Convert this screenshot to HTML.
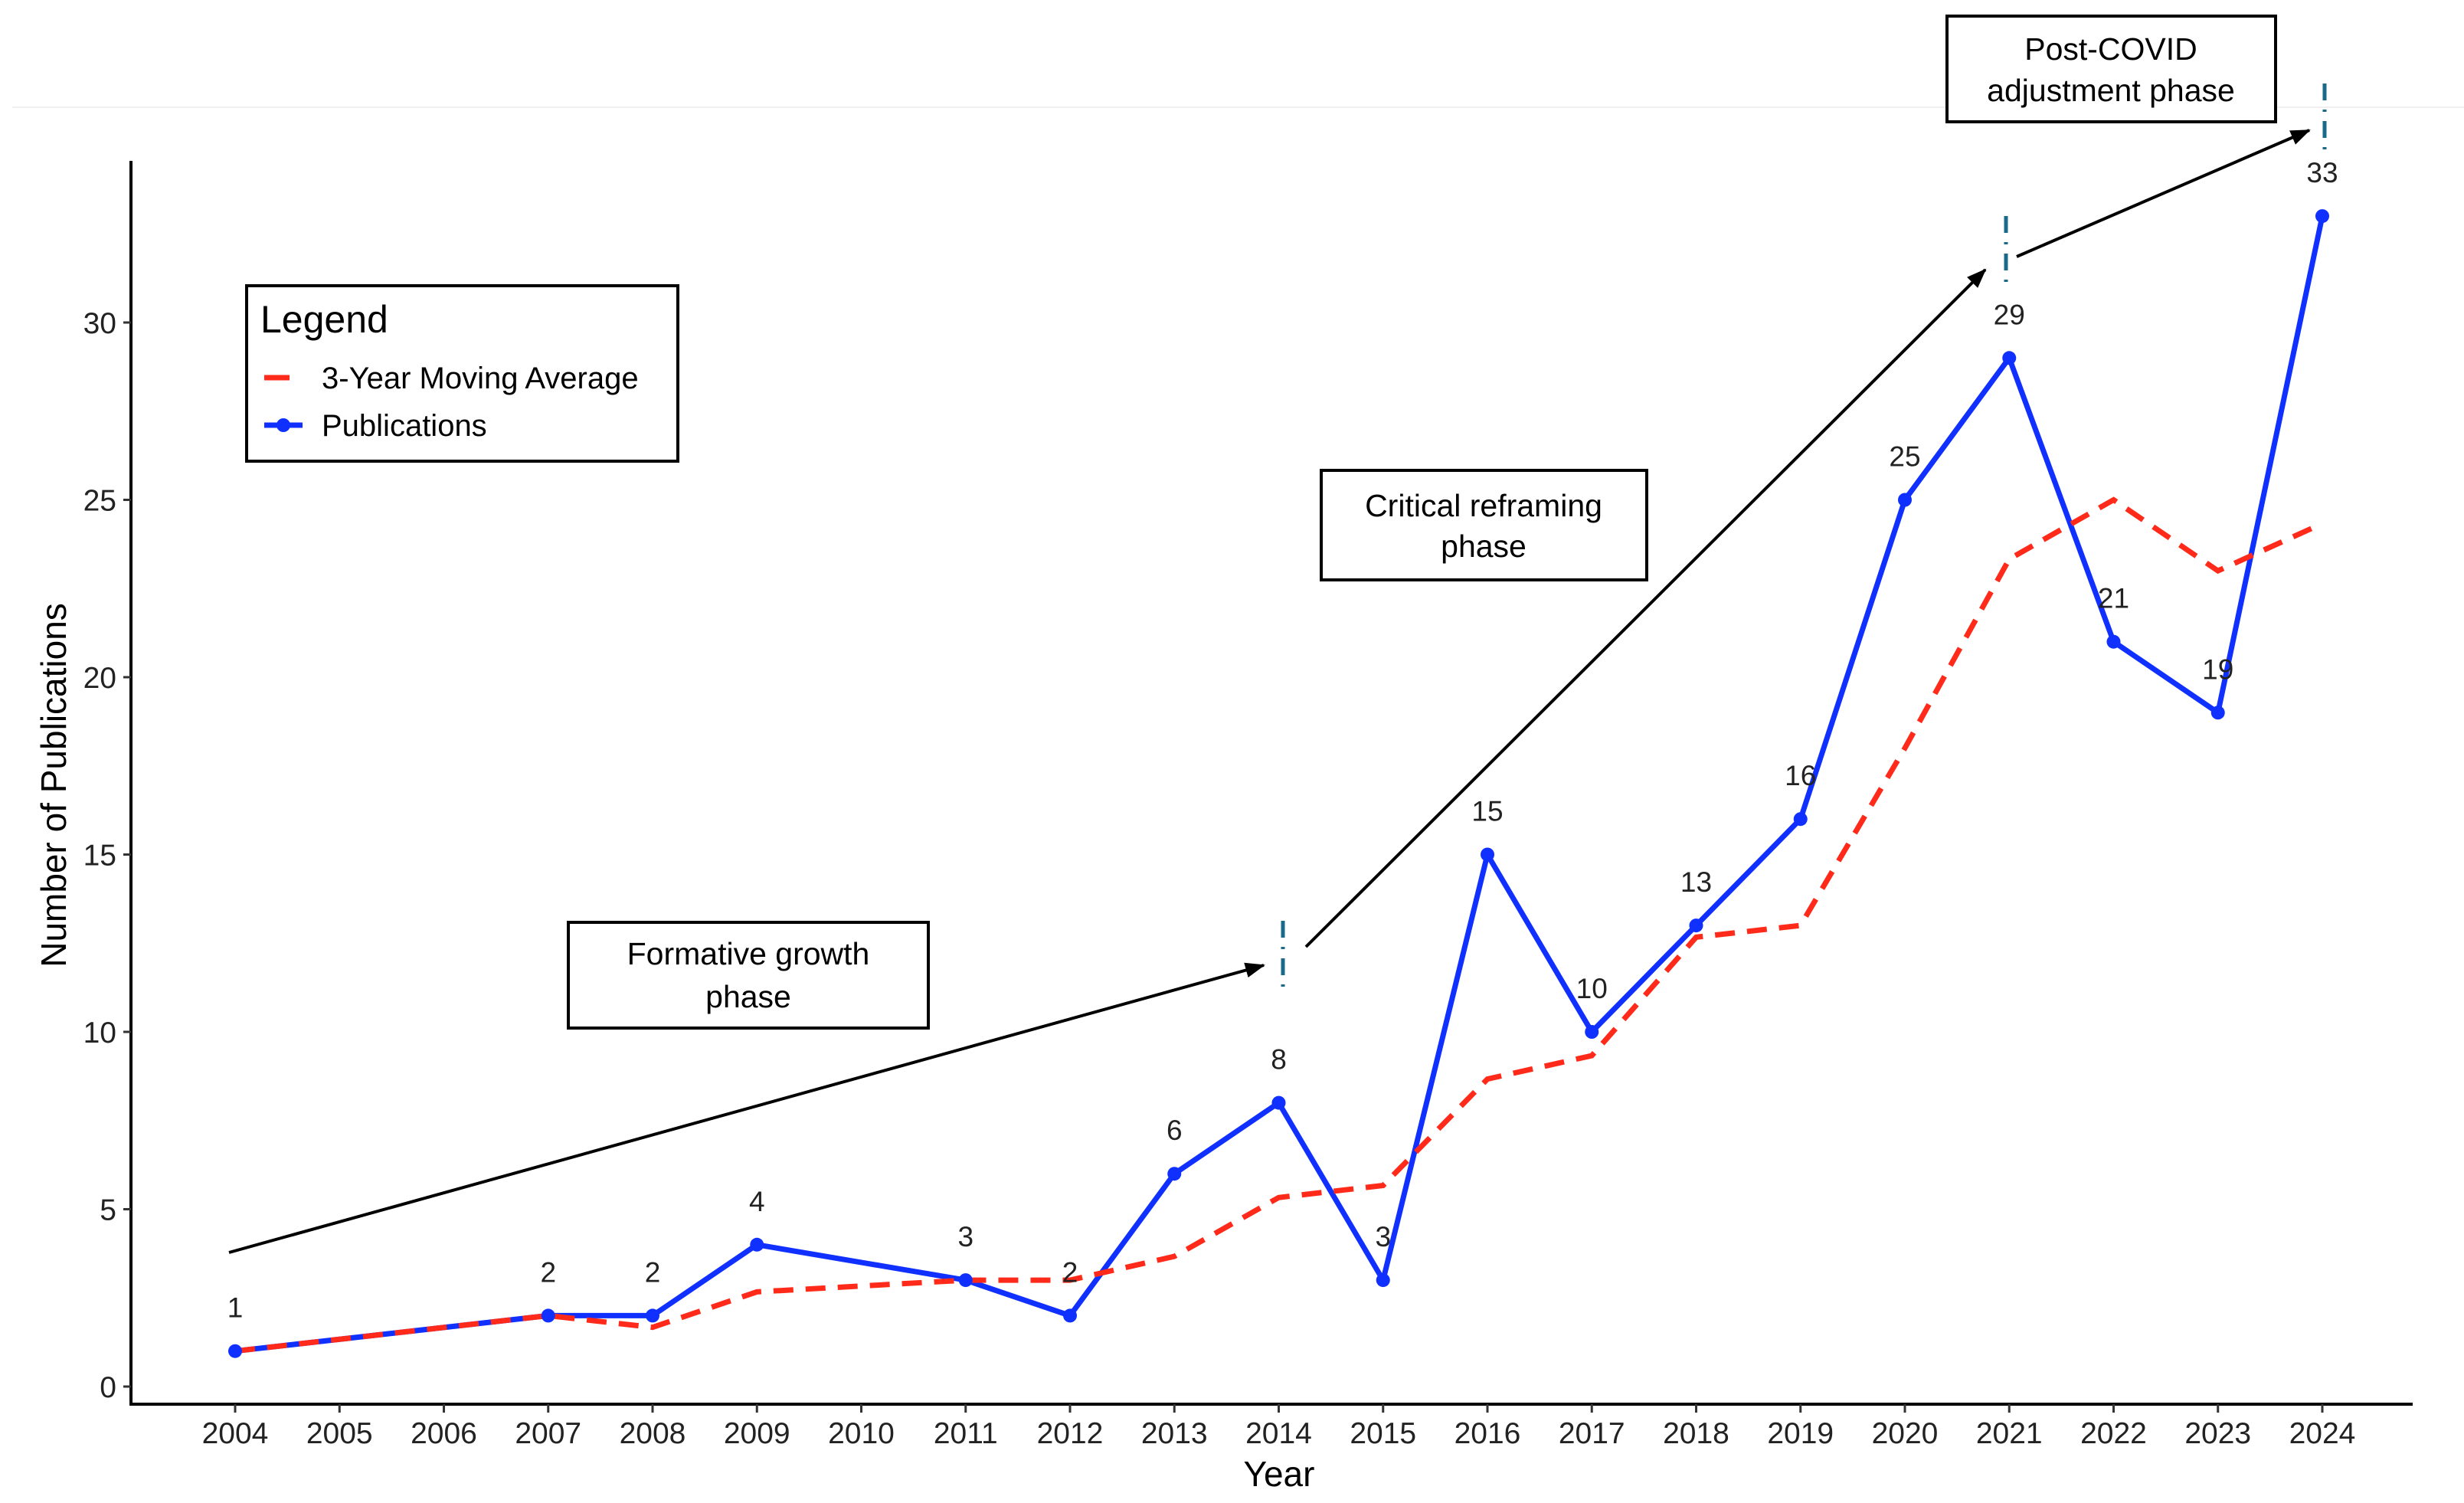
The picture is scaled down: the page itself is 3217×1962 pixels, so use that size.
<!DOCTYPE html>
<html><head><meta charset="utf-8"><style>
html,body{margin:0;padding:0;background:#fff;}
svg{display:block;font-family:"Liberation Sans",Arial,sans-serif;}
</style></head><body>
<svg id="chart" width="3217" height="1962" viewBox="0 0 3217 1962" xmlns="http://www.w3.org/2000/svg">
<line x1="16" y1="140" x2="3217" y2="140" stroke="#f0f0f0" stroke-width="2"/>
<g id="axes"></g>
<g id="series"></g>
<g id="annotations">
  <defs><marker id="ah" markerWidth="26" markerHeight="22" refX="24" refY="11" orient="auto" markerUnits="userSpaceOnUse" viewBox="0 0 26 22"><path d="M0,1 L26,11 L0,21 z" fill="#000"/></marker></defs>
  <line x1="299" y1="1635" x2="1650" y2="1260" stroke="#000" stroke-width="4" marker-end="url(#ah)"/>
  <line x1="1705" y1="1236" x2="2592" y2="352" stroke="#000" stroke-width="4" marker-end="url(#ah)"/>
  <line x1="2633" y1="335" x2="3015" y2="170" stroke="#000" stroke-width="4" marker-end="url(#ah)"/>
  <line x1="1675" y1="1202" x2="1675" y2="1295" stroke="#1a6a8a" stroke-width="5" stroke-dasharray="22,12,3,12"/>
  <line x1="2619" y1="282" x2="2619" y2="371" stroke="#1a6a8a" stroke-width="5" stroke-dasharray="22,12,3,12"/>
  <line x1="3035" y1="109" x2="3035" y2="196" stroke="#1a6a8a" stroke-width="5" stroke-dasharray="22,12,3,12"/>
  <g>
    <rect x="742" y="1204" width="470" height="138" fill="#fff" stroke="#000" stroke-width="4"/>
    <text x="977" y="1259" font-size="41" text-anchor="middle">Formative growth</text>
    <text x="977" y="1315" font-size="41" text-anchor="middle">phase</text>
  </g>
  <g>
    <rect x="1734" y="614" width="425" height="143" fill="#fff" stroke="#000" stroke-width="4" transform="translate(-9,0)"/>
    <text x="1937" y="674" font-size="41" text-anchor="middle">Critical reframing</text>
    <text x="1937" y="727" font-size="41" text-anchor="middle">phase</text>
  </g>
  <g>
    <rect x="2542" y="21" width="429" height="138" fill="#fff" stroke="#000" stroke-width="4"/>
    <text x="2756" y="78" font-size="41" text-anchor="middle">Post-COVID</text>
    <text x="2756" y="132" font-size="41" text-anchor="middle">adjustment phase</text>
  </g>
</g>
<g>
  <rect x="322" y="373" width="563" height="229" fill="#fff" stroke="#000" stroke-width="4"/>
  <text x="340" y="434" font-size="50">Legend</text>
  <g>
    <line x1="345" y1="493" x2="378" y2="493" stroke="#ff2a1a" stroke-width="7"/>
    <text x="420" y="507" font-size="40">3-Year Moving Average</text>
  </g>
  <g>
    <line x1="345" y1="555" x2="395" y2="555" stroke="#1030ff" stroke-width="7"/>
    <circle cx="370" cy="555" r="9" fill="#1030ff"/>
    <text x="420" y="569" font-size="40">Publications</text>
  </g>
</g>
</svg>
<script>
const years = [2004,2007,2008,2009,2011,2012,2013,2014,2015,2016,2017,2018,2019,2020,2021,2022,2023,2024];
const publications = [1,2,2,4,3,2,6,8,3,15,10,13,16,25,29,21,19,33];
const movingAverage = [1,2,1.67,2.67,3,3,3.67,5.33,5.67,8.67,9.33,12.67,13,18,23.33,25,23,24.33];
const xTicks = [2004,2005,2006,2007,2008,2009,2010,2011,2012,2013,2014,2015,2016,2017,2018,2019,2020,2021,2022,2023,2024];
const yTicks = [0,5,10,15,20,25,30];

const NS = "http://www.w3.org/2000/svg";
const X0 = 307, X1 = 3032, Y0 = 1810, Y30 = 421;
function xs(v){ return X0 + (v-2004)*(X1-X0)/20; }
function ys(v){ return Y0 - v*(Y0-Y30)/30; }
function mk(tag, attrs, parent, txt){
  const e = document.createElementNS(NS, tag);
  for (const k in attrs) e.setAttribute(k, attrs[k]);
  if (txt !== undefined) e.textContent = txt;
  parent.appendChild(e); return e;
}
const axes = document.getElementById('axes');
const series = document.getElementById('series');
const yAxis = mk('line',{x1:171,y1:210,x2:171,y2:1835,stroke:'#000','stroke-width':4},axes);


const xAxis = mk('line',{x1:169,y1:1833,x2:3150,y2:1833,stroke:'#000','stroke-width':4},axes);


yTicks.forEach(t=>{
  const y = ys(t);
  mk('line',{x1:161,y1:y,x2:171,y2:y,stroke:'#333','stroke-width':3},axes);
  const lb = mk('text',{x:152,y:y+14,'font-size':39,'text-anchor':'end',fill:'#222'},axes,String(t));
  
  
});
xTicks.forEach(t=>{
  const x = xs(t);
  mk('line',{x1:x,y1:1833,x2:x,y2:1844,stroke:'#333','stroke-width':3},axes);
  const lb = mk('text',{x:x,y:1884,'font-size':39,'text-anchor':'middle',fill:'#222'},axes,String(t));
  
  
});
const xt = mk('text',{x:1670,y:1940,'font-size':46,'text-anchor':'middle'},axes,'Year');


const yt = mk('text',{x:0,y:0,'font-size':46,'text-anchor':'middle',transform:'translate(86,1025) rotate(-90)'},axes,'Number of Publications');



const pubPts = years.map((y,i)=>xs(y)+','+ys(publications[i])).join(' ');
const maPts = years.map((y,i)=>xs(y)+','+ys(movingAverage[i])).join(' ');
const pl = mk('polyline',{points:pubPts,fill:'none',stroke:'#1030ff','stroke-width':7,'stroke-linejoin':'round'},series);


const ml = mk('polyline',{points:maPts,fill:'none',stroke:'#ff2a1a','stroke-width':7,'stroke-dasharray':'26,16'},series);


years.forEach((y,i)=>{
  const c = mk('circle',{cx:xs(y),cy:ys(publications[i]),r:9,fill:'#1030ff'},series);
  
  
  const t = mk('text',{x:xs(y),y:ys(publications[i])-44,'font-size':37,'text-anchor':'middle',fill:'#222'},series,String(publications[i]));
  
  
});
</script>
</body></html>
